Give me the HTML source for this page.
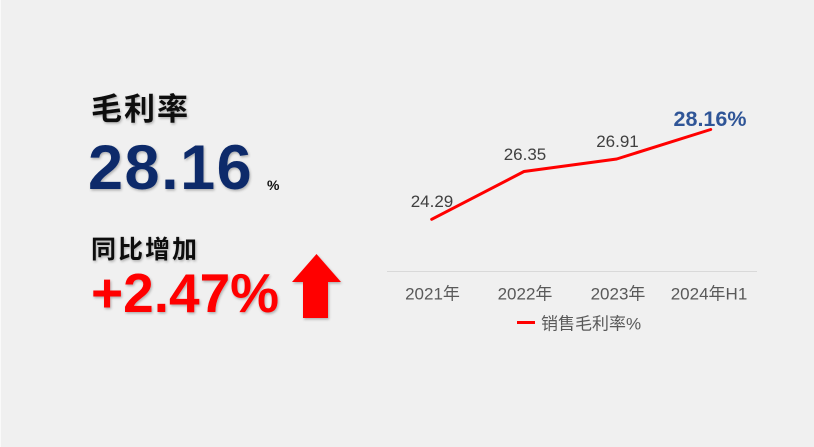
<!DOCTYPE html>
<html>
<head>
<meta charset="utf-8">
<style>
  html,body{margin:0;padding:0;background:#f0f0f0;}
  body{width:814px;height:447px;overflow:hidden;}
  svg{display:block;}
  .cjk{font-family:"Liberation Sans","Noto Sans CJK SC",sans-serif;}
</style>
</head>
<body>
<svg width="814" height="447" viewBox="0 0 814 447" xmlns="http://www.w3.org/2000/svg">
  <defs>
    <filter id="sh" x="-10%" y="-10%" width="130%" height="140%">
      <feDropShadow dx="1" dy="1.5" stdDeviation="1.2" flood-color="#000" flood-opacity="0.28"/>
    </filter>
  </defs>
  <rect x="0" y="0" width="814" height="447" fill="#f0f0f0"/>
  <rect x="0" y="0" width="1" height="447" fill="#fafafa"/>

  <!-- Left block -->
  <text x="91" y="120" class="cjk" font-size="31" font-weight="bold" letter-spacing="2" fill="#111" filter="url(#sh)">毛利率</text>
  <text x="88" y="189" font-family="Liberation Sans, sans-serif" font-size="63" font-weight="bold" letter-spacing="1.5" fill="#0b2a6b" filter="url(#sh)">28.16</text>
  <text x="267" y="190" font-family="Liberation Sans, sans-serif" font-size="14" font-weight="bold" fill="#111">%</text>

  <text x="91" y="258" class="cjk" font-size="25" font-weight="bold" letter-spacing="2" fill="#111" filter="url(#sh)">同比增加</text>
  <text x="91" y="312" font-family="Liberation Sans, sans-serif" font-size="55" font-weight="bold" fill="#ff0000" filter="url(#sh)">+2.47%</text>
  <polygon points="316.5,254 341,282 328,282 328,318 303,318 303,282 292,282" fill="#ff0000" filter="url(#sh)"/>

  <!-- Chart -->
  <line x1="387" y1="271.5" x2="757" y2="271.5" stroke="#d9d9d9" stroke-width="1"/>
  <polyline points="431.7,219.3 524,171.5 616.7,159 710.7,129.5" fill="none" stroke="#ff0000" stroke-width="3" stroke-linecap="round" stroke-linejoin="round"/>

  <g font-family="Liberation Sans, sans-serif" font-size="17" fill="#404040" text-anchor="middle">
    <text x="432" y="207">24.29</text>
    <text x="525" y="160">26.35</text>
    <text x="617.5" y="147">26.91</text>
  </g>
  <text x="710" y="126" font-family="Liberation Sans, sans-serif" font-size="21.5" font-weight="bold" fill="#2f5597" text-anchor="middle">28.16%</text>

  <g class="cjk" font-size="17" fill="#595959" text-anchor="middle">
    <text x="432.5" y="299.5">2021年</text>
    <text x="525" y="299.5">2022年</text>
    <text x="618" y="299.5">2023年</text>
    <text x="709" y="299.5">2024年H1</text>
  </g>

  <line x1="517" y1="322.5" x2="535" y2="322.5" stroke="#ff0000" stroke-width="3"/>
  <text x="541" y="329.5" class="cjk" font-size="17" fill="#595959">销售毛利率%</text>
</svg>
</body>
</html>
